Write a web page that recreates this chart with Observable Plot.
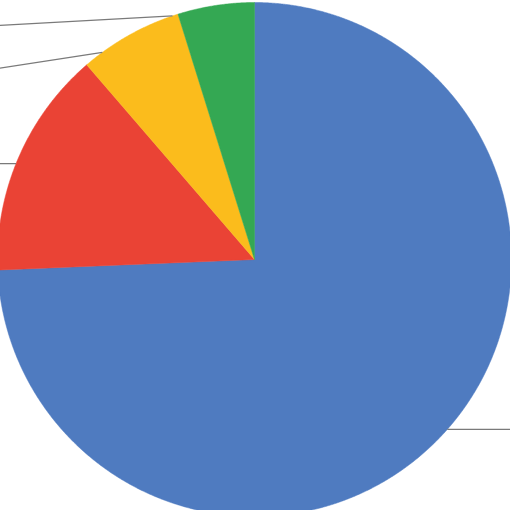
<!DOCTYPE html>
<html><head><meta charset="utf-8">
<script src="https://cdn.jsdelivr.net/npm/d3@7"></script>
<script src="https://cdn.jsdelivr.net/npm/@observablehq/plot@0.6"></script>
<style>html,body{margin:0;padding:0;background:#fff;overflow:hidden}#chart svg{overflow:hidden;display:block}</style>
</head><body><div id="chart"></div>
<script>
// Slice categories (labels lie outside the visible crop)
const categories = ["Category A", "Category B", "Category C", "Category D"];
// Shares in percent, clockwise from 12 o'clock
const shares = [74.2, 14.3, 6.5, 4.8];
const sliceColors = ["#4f7bc0", "#ea4335", "#fbbc1c", "#34a853"];
// Leader-line anchors (degrees clockwise from top) and label ends (data units)
const leaderAngles = [131.4, 291.9, 323.7, 341.4];
const labelX = [1.1, -1.1, -1.1, -1.1];
const labelY = [-0.661, 0.374, 0.728, 0.905];

const pie = d3.pie().sort(null).value(d => d)(shares);
const slicePts = [];
pie.forEach((p, i) => {
  const cat = categories[i];
  slicePts.push({cat, x: 0, y: 0});
  const n = Math.max(2, Math.ceil((p.endAngle - p.startAngle) / (Math.PI / 720)));
  for (let k = 0; k <= n; k++) {
    const a = p.startAngle + (p.endAngle - p.startAngle) * k / n;
    slicePts.push({cat, x: Math.sin(a), y: Math.cos(a)});
  }
  slicePts.push({cat, x: 0, y: 0});
});

const leaders = categories.map((c, i) => {
  const a = leaderAngles[i] * Math.PI / 180;
  return {cat: c, x1: Math.sin(a), y1: Math.cos(a), x2: labelX[i], y2: labelY[i]};
});

const R = 257;
const chart = Plot.plot({
  width: 510,
  height: 510,
  margin: 0,
  x: {domain: [-254 / R, 256 / R], axis: null},
  y: {domain: [-251 / R, 259 / R], axis: null},
  color: {domain: categories, range: sliceColors},
  marks: [
    Plot.line(slicePts, {x: "x", y: "y", z: "cat", fill: "cat", stroke: "cat", strokeWidth: 0.5, curve: "linear"}),
    Plot.link(leaders, {x1: "x1", y1: "y1", x2: "x2", y2: "y2", stroke: "#7a7a7a", strokeWidth: 1.3})
  ]
});
document.getElementById("chart").append(chart);
</script>
</body></html>
